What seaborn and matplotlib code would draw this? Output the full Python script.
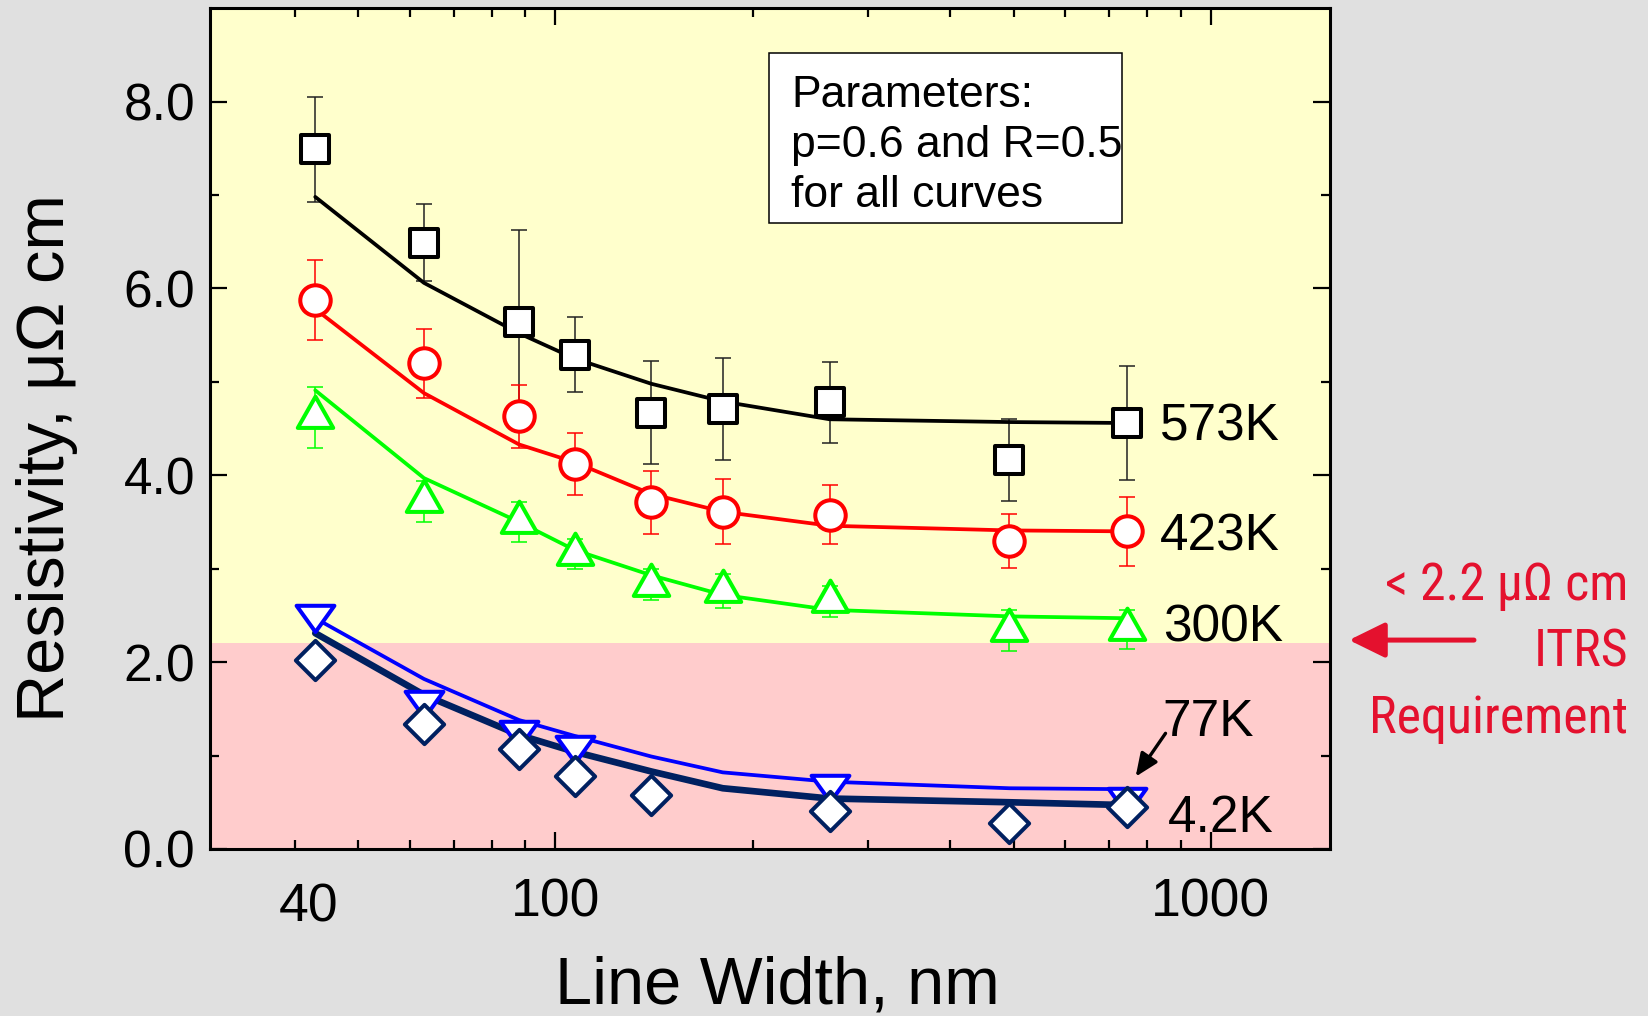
import numpy as np
import pandas as pd
import matplotlib.pyplot as plt
import seaborn as sns
from matplotlib import font_manager
from matplotlib.patches import Rectangle
from matplotlib.path import Path
from matplotlib.transforms import ScaledTranslation


# DATA
width_nm = [43, 63, 88, 107, 140, 180, 262, 493, 744]

rho_573 = [7.49, 6.49, 5.64, 5.29, 4.67, 4.71, 4.78, 4.16, 4.56]
err_573 = [0.56, 0.41, 0.99, 0.40, 0.55, 0.55, 0.43, 0.44, 0.61]
fit_573 = [6.98, 6.06, 5.52, 5.25, 4.98, 4.79, 4.60, 4.57, 4.56]

rho_423 = [5.88, 5.20, 4.63, 4.12, 3.71, 3.61, 3.58, 3.30, 3.40]
err_423 = [0.43, 0.37, 0.34, 0.33, 0.34, 0.35, 0.32, 0.29, 0.37]
fit_423 = [5.78, 4.88, 4.33, 4.14, 3.80, 3.61, 3.46, 3.41, 3.40]

rho_300 = [4.62, 3.72, 3.50, 3.16, 2.83, 2.76, 2.65, 2.34, 2.35]
err_300 = [0.33, 0.22, 0.21, 0.16, 0.17, 0.18, 0.17, 0.22, 0.21]
fit_300 = [4.91, 3.97, 3.50, 3.20, 2.93, 2.72, 2.56, 2.49, 2.47]

width_77 = [43, 63, 88, 107, 262, 744]
rho_77 = [2.51, 1.59, 1.27, 1.11, 0.70, 0.56]
fit_77 = [2.47, 1.82, 1.38, 1.21, 0.99, 0.82, 0.72, 0.65, 0.64]

width_4 = [43, 63, 88, 107, 140, 262, 493, 744]
rho_4 = [2.02, 1.34, 1.07, 0.78, 0.58, 0.41, 0.28, 0.45]
fit_4 = [2.31, 1.65, 1.22, 1.04, 0.83, 0.65, 0.54, 0.50, 0.47]

itrs_limit = 2.2

x_major = [100, 1000]
x_minor = [40, 50, 60, 70, 80, 90, 200, 300, 400, 500, 600, 700, 800, 900]
y_major = [0, 2, 4, 6, 8]
y_minor = [1, 3, 5, 7]


# STYLE
sns.set_style("ticks")
plt.rcParams['font.family'] = ['Liberation Sans', 'DejaVu Sans']
plt.rcParams['text.color'] = 'black'
plt.rcParams['axes.labelcolor'] = 'black'
plt.rcParams['xtick.color'] = 'black'
plt.rcParams['ytick.color'] = 'black'

red = '#E4112E'
navy = '#002060'


# the red note uses a narrow face in the original: look for any condensed regular font
def pick_narrow_font():
    prefs = ['Liberation Sans Narrow', 'Arimo', 'Noto Sans', 'Roboto', 'Open Sans', 'DejaVu Sans']
    found = []
    for f in font_manager.fontManager.ttflist:
        st = str(f.stretch).lower()
        narrow = ('narrow' in f.name.lower() or 'condensed' in f.name.lower()
                  or st in ('condensed', 'semi-condensed', 'extra-condensed'))
        if narrow and f.style == 'normal' and str(f.weight) in ('400', 'normal', 'regular'):
            found.append(f)
    for p in prefs:
        for f in found:
            if f.name.startswith(p) and 'extra' not in str(f.stretch).lower():
                return font_manager.FontProperties(fname=f.fname)
    if found:
        return font_manager.FontProperties(fname=found[0].fname)
    return font_manager.FontProperties(family=['Liberation Sans', 'DejaVu Sans'])


red_font = pick_narrow_font()

# custom triangles centred on their centroid (error bars are symmetric about it)
up_tri = Path([(0, 20), (-17, -10), (17, -10), (0, 20)], closed=True)
down_tri = Path([(-18, 8.3), (18, 8.3), (0, -16.7), (-18, 8.3)], closed=True)


fig = plt.figure(figsize=(16.48, 10.16), dpi=100, facecolor='#E0E0E0')
ax = fig.add_axes([0.1274, 0.1644, 0.6796, 0.8275])
ax.set_xscale('log')
ax.set_facecolor('#FFFFCC')
ax.axhspan(0, itrs_limit, color='#FFCCCC', lw=0, zorder=0)


# error bars
for rho, err, col in [(rho_573, err_573, '#222222'), (rho_423, err_423, '#FF0000'), (rho_300, err_300, '#00FF00')]:
    ax.errorbar(width_nm, rho, yerr=err, fmt='none', ecolor=col, elinewidth=1.1,
                capsize=5.5, capthick=1.1, zorder=2)

# fitted curves
for fit, col, lw in [(fit_573, 'black', 2.7), (fit_423, '#FF0000', 2.7), (fit_300, '#00FF00', 2.7),
                     (fit_77, '#0000FF', 2.7), (fit_4, navy, 4.8)]:
    sns.lineplot(x=width_nm, y=fit, color=col, lw=lw, ax=ax, zorder=3,
                 estimator=None, sort=False, legend=False)

# data points
sns.scatterplot(x=width_nm, y=rho_573, marker='s', s=390, color='white', edgecolor='black',
                linewidth=2.9, ax=ax, zorder=4, legend=False)
sns.scatterplot(x=width_nm, y=rho_423, marker='o', s=480, color='white', edgecolor='#FF0000',
                linewidth=2.9, ax=ax, zorder=4, legend=False)
sns.scatterplot(x=width_nm, y=rho_300, marker=up_tri, s=900, color='white', edgecolor='#00FF00',
                linewidth=2.9, ax=ax, zorder=4, legend=False)
sns.scatterplot(x=width_77, y=rho_77, marker=down_tri, s=740, color='white', edgecolor='#0000FF',
                linewidth=2.9, ax=ax, zorder=4, legend=False)
sns.scatterplot(x=width_4, y=rho_4, marker='D', s=400, color='white', edgecolor=navy,
                linewidth=2.9, ax=ax, zorder=5, legend=False)


# axes, ticks
ax.set_xlim(29.7, 1520)
ax.set_ylim(0, 9)
ax.set_xticks(x_major)
ax.set_xticklabels(['100', '1000'])
ax.set_xticks(x_minor, minor=True)
ax.set_xticklabels(['40'] + [''] * (len(x_minor) - 1), minor=True)
ax.set_yticks(y_major)
ax.set_yticklabels([f'{v:.1f}' for v in y_major])
ax.set_yticks(y_minor, minor=True)
ax.set_yticklabels([], minor=True)

ax.tick_params(which='both', direction='in', top=True, right=True, width=1.6, colors='black')
ax.tick_params(which='major', length=12.5)
ax.tick_params(which='minor', length=6.5)
ax.tick_params(axis='x', which='major', labelsize=38.5, pad=20.5)
ax.tick_params(axis='x', which='minor', labelsize=38.5, pad=24.5)
ax.tick_params(axis='y', which='both', labelsize=37, pad=10.8)
for sp in ax.spines.values():
    sp.set_linewidth(2.2)
    sp.set_color('black')
    sp.set_visible(True)

# the "40" label sits a little right of its tick in the original
lbl40 = ax.xaxis.get_minor_ticks()[0].label1
lbl40.set_transform(lbl40.get_transform() + ScaledTranslation(10 / 72, 0, fig.dpi_scale_trans))

ax.set_xlabel('Line Width, nm', fontsize=48)
ax.xaxis.set_label_coords(0.507, -0.127)
ax.set_ylabel('Resistivity, μΩ cm', fontsize=48)
ax.yaxis.set_label_coords(-0.118, 0.465)


# parameter box
ax.add_patch(Rectangle((0.499, 0.7446), 0.3156, 0.2024, transform=ax.transAxes,
                       facecolor='white', edgecolor='black', lw=1.1, zorder=6))
for txt, yy in [('Parameters:', 0.8826), ('p=0.6 and R=0.5', 0.8232), ('for all curves', 0.7637)]:
    ax.text(0.519, yy, txt, transform=ax.transAxes, fontsize=32, va='baseline', ha='left', zorder=7)


# curve labels
for txt, xx, yy in [('573K', 836, 4.37), ('423K', 836, 3.19), ('300K', 847, 2.226),
                    ('77K', 844, 1.213), ('4.2K', 859, 0.185)]:
    ax.text(xx, yy, txt, fontsize=37, va='baseline', ha='left', zorder=7)

ax.annotate('', xy=(768, 0.774), xytext=(853, 1.238),
            arrowprops=dict(arrowstyle='-|>,head_length=0.7,head_width=0.3', color='black',
                            lw=2.4, mutation_scale=20, shrinkA=0, shrinkB=0), zorder=7)


# ITRS requirement note outside the axes
red_texts = []
for txt, yy in [('< 2.2 μΩ cm', 0.4094), ('ITRS', 0.3438), ('Requirement', 0.2782)]:
    red_texts.append(fig.text(0.9879, yy, txt, color=red, fontproperties=red_font,
                              fontsize=39, ha='right', va='baseline'))
# fit the width of "Requirement" to the original (about 260 px)
fig.canvas.draw()
w = red_texts[2].get_window_extent().width
size = min(39 * 259.5 / w, 40)
for t in red_texts:
    t.set_fontsize(size)

ax.annotate('', xy=(0.8186, 0.37), xytext=(0.8944, 0.37), xycoords='figure fraction',
            textcoords='figure fraction', annotation_clip=False,
            arrowprops=dict(arrowstyle='-|>,head_length=1.1,head_width=0.54', color=red,
                            lw=3.6, mutation_scale=20, shrinkA=0, shrinkB=0))


fig.savefig('out.png', dpi=100, facecolor=fig.get_facecolor())
